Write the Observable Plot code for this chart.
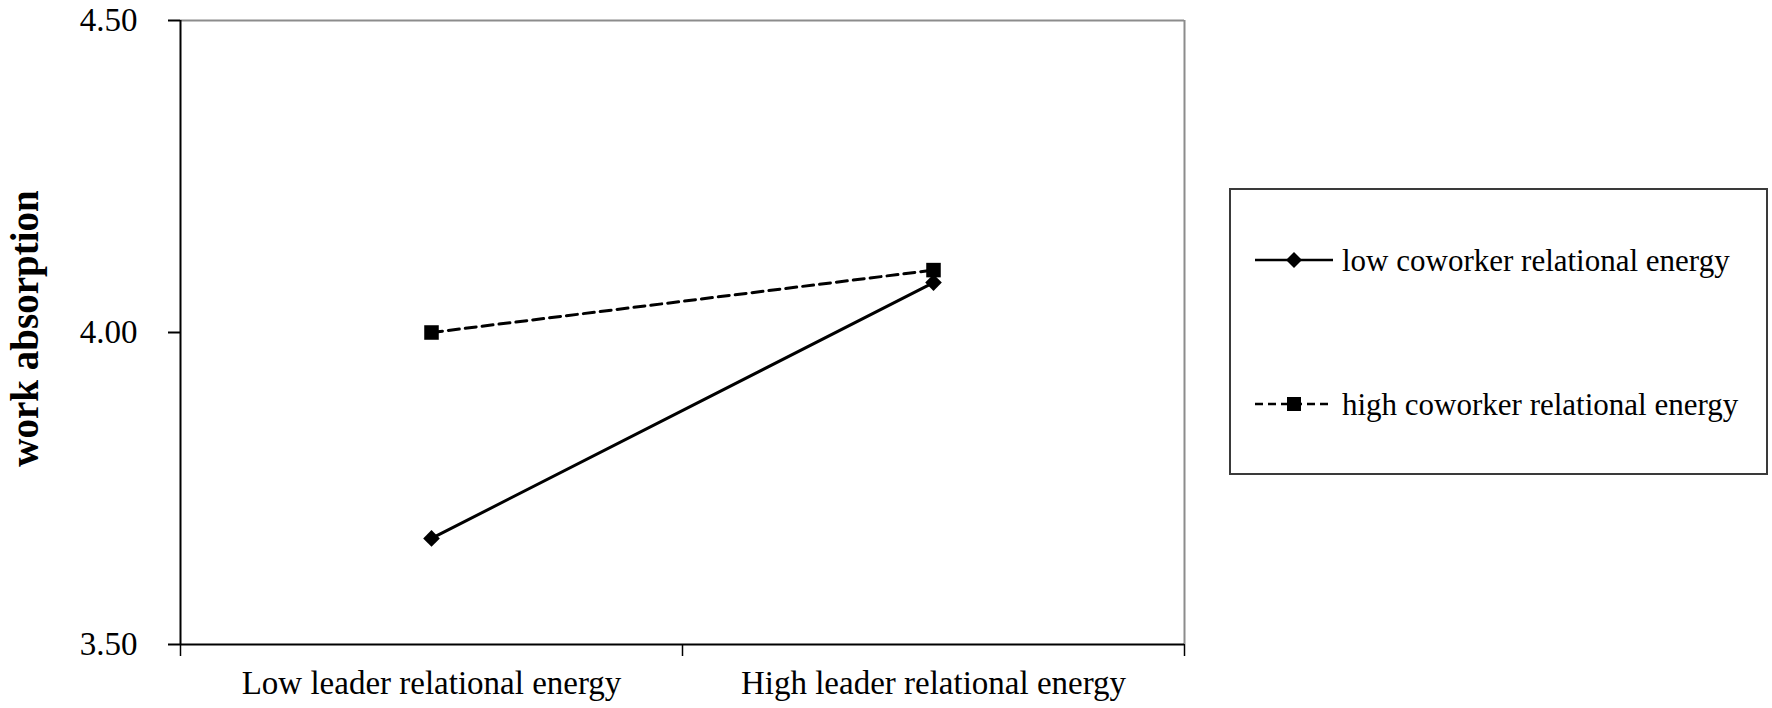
<!DOCTYPE html>
<html>
<head>
<meta charset="utf-8">
<script src="https://cdn.jsdelivr.net/npm/d3@7"></script>
<script src="https://cdn.jsdelivr.net/npm/@observablehq/plot@0.6"></script>
<style>
  body { margin: 0; background: #fff; }
  #wrap { position: relative; width: 1772px; height: 708px; background: #fff; }
  #legend { position: absolute; left: 1229px; top: 188px; }
</style>
</head>
<body>
<div id="wrap"></div>
<script>
// ---- data ----
const categories = ["Low leader relational energy", "High leader relational energy"];
const seriesNames = ["low coworker relational energy", "high coworker relational energy"];
const lowCoworker = [3.67, 4.08];
const highCoworker = [4.00, 4.10];
const yTicks = [3.50, 4.00, 4.50];
const yTitle = "work absorption";

const font = "'Liberation Serif', 'Times New Roman', serif";

const rows = [];
categories.forEach((c, i) => {
  rows.push({pos: i + 0.5, cat: c, series: seriesNames[0], value: lowCoworker[i]});
  rows.push({pos: i + 0.5, cat: c, series: seriesNames[1], value: highCoworker[i]});
});
const lowRows = rows.filter(d => d.series === seriesNames[0]);
const highRows = rows.filter(d => d.series === seriesNames[1]);

const chart = Plot.plot({
  width: 1772,
  height: 708,
  marginLeft: 180,
  marginRight: 588,
  marginTop: 20,
  marginBottom: 64,
  style: {fontFamily: font, fontSize: "33px", color: "#000", background: "#fff", overflow: "visible"},
  x: {type: "linear", domain: [0, categories.length]},
  y: {domain: [yTicks[0], yTicks[yTicks.length - 1]]},
  marks: [
    Plot.ruleY([yTicks[yTicks.length - 1]], {stroke: "#8c8c8c", strokeWidth: 2}),
    Plot.ruleX([categories.length], {stroke: "#8c8c8c", strokeWidth: 2}),
    Plot.axisY({ticks: yTicks, tickFormat: d3.format(".2f"), tickSize: 12, tickPadding: 31,
      fontSize: 33, label: null, strokeWidth: 2}),
    Plot.axisX({ticks: d3.range(categories.length + 1), tickFormat: () => "", tickSize: 12,
      label: null, strokeWidth: 1.5}),
    Plot.axisX({ticks: categories.map((c, i) => i + 0.5), tickFormat: d => categories[Math.floor(d)],
      tickSize: 0, tickPadding: 26, fontSize: 33, label: null}),
    Plot.ruleX([0], {stroke: "#000", strokeWidth: 2}),
    Plot.ruleY([yTicks[0]], {stroke: "#000", strokeWidth: 2}),
    Plot.line(highRows, {x: "pos", y: "value", stroke: "#000", strokeWidth: 3, strokeDasharray: "11,6"}),
    Plot.line(lowRows, {x: "pos", y: "value", stroke: "#000", strokeWidth: 3}),
    Plot.dot(highRows, {x: "pos", y: "value", symbol: "square", r: 8.2, fill: "#000", stroke: "none"}),
    Plot.dot(lowRows, {x: "pos", y: "value", symbol: "diamond2", r: 7.5, fill: "#000", stroke: "none"}),
    Plot.text([yTitle], {frameAnchor: "left", dx: -155, dy: -4, rotate: -90, fontWeight: "bold",
      fontSize: 39, fill: "#000", textAnchor: "middle"})
  ]
});

const wrap = document.getElementById("wrap");
wrap.appendChild(chart);

// ---- legend ----
const lw = 539, lh = 287;
const legend = d3.create("svg")
  .attr("id", "legend")
  .attr("width", lw)
  .attr("height", lh)
  .style("overflow", "visible");
legend.append("rect")
  .attr("x", 1).attr("y", 1).attr("width", lw - 2).attr("height", lh - 2)
  .attr("fill", "#fff").attr("stroke", "#3a3a3a").attr("stroke-width", 2);

const items = [
  {name: seriesNames[0], dash: null, sym: d3.symbolDiamond2, r: 7.2},
  {name: seriesNames[1], dash: "8,5", sym: d3.symbolSquare, r: 7.9}
];
const rowY = [72, 216];
items.forEach((it, i) => {
  const g = legend.append("g").attr("transform", `translate(0,${rowY[i]})`);
  g.append("line").attr("x1", 26).attr("x2", 104).attr("y1", 0).attr("y2", 0)
    .attr("stroke", "#000").attr("stroke-width", 2.5)
    .attr("stroke-dasharray", it.dash);
  g.append("path").attr("transform", "translate(65,0)")
    .attr("d", d3.symbol(it.sym, Math.PI * it.r * it.r)())
    .attr("fill", "#000");
  g.append("text").attr("x", 113).attr("y", 11)
    .attr("font-family", font).attr("font-size", 31).attr("fill", "#000")
    .text(it.name);
});
wrap.appendChild(legend.node());
</script>
</body>
</html>
